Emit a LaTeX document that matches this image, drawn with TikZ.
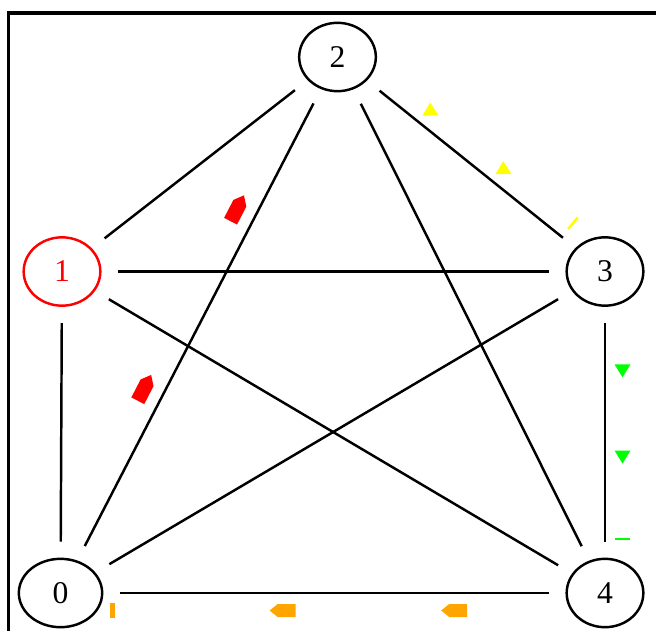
\documentclass[tikz,border=0pt]{standalone}
\usepackage{fontspec}
\setmainfont{Liberation Serif}
\usepackage{tikz}
\usetikzlibrary{shapes.geometric, calc}
\definecolor{msgred}{RGB}{255,0,0}
\definecolor{msgyellow}{RGB}{255,255,0}
\definecolor{msggreen}{RGB}{0,255,0}
\definecolor{msgorange}{RGB}{255,165,0}

\begin{document}
\begin{tikzpicture}[x=0.03cm, y=0.03cm,
  every node/.style={font=\fontsize{27}{32}\selectfont},
  vertex/.style={ellipse, draw, line width=2.1pt, minimum width=2.3cm,
    minimum height=2.05cm, inner sep=0pt, outer sep=0.52cm},
  edge/.style={line width=2.1pt},
  msg/.style={pos=#1, sloped, allow upside down},
  % message markers, drawn along +x and offset to the left of the edge
  pics/flag/.style={code={\fill (-13,11) -- (5,11) -- (13,17.5) -- (5,24) -- (-13,24) -- cycle;}},
  pics/tri/.style={code={\fill[rotate around={#1:(0,17.5)}] (-6.5,9.5) -- (6.5,17.5) -- (-6.5,25.5) -- cycle;}},
  pics/tri/.default=0,
  pics/bar/.style={code={\fill (-#1,10) rectangle (#1,25);}}]

  \clip (0,0) rectangle (656,630);
  \useasboundingbox (0,0) rectangle (656,630);

  % frame
  \draw[line width=2.6pt] (8.5,-20) -- (8.5,617) -- (690,617);

  % vertices
  \node[vertex, minimum width=2.5cm] (n0) at (60.5,37) {0};
  \node[vertex, draw=red, text=red] (n1) at (62,358.5) {1};
  \node[vertex] (n2) at (337.5,573) {2};
  \node[vertex] (n3) at (605,358.5) {3};
  \node[vertex] (n4) at (605,37) {4};

  % edges
  \draw[edge] (n0) -- (n1);
  \draw[edge] (n0) -- (n2);
  \draw[edge] (n0) -- (n3);
  \draw[edge] (n0) -- (n4);
  \draw[edge] (n1) -- (n2);
  \draw[edge] (n1) -- (n3);
  \draw[edge] (n1) -- (n4);
  \draw[edge] (n2) -- (n3);
  \draw[edge] (n2) -- (n4);
  \draw[edge] (n3) -- (n4);

  % messages 0 -> 2
  \path (n0.center) -- (n2.center)
    pic[msg=0.366, msgred, scale=1.12] {flag}
    pic[msg=0.701, msgred, scale=1.12] {flag};

  % messages 2 -> 3
  \path (n2.center) -- (n3.center)
    pic[msg=0.306, msgyellow] {tri=130}
    pic[msg=0.579, msgyellow] {tri=130}
    pic[msg=0.839, msgyellow] {bar=1.25};

  % messages 3 -> 4
  \path (n3.center) -- (n4.center)
    pic[msg=0.309, msggreen] {tri}
    pic[msg=0.577, msggreen] {tri}
    pic[msg=0.832, msggreen] {bar=1.25};

  % messages 4 -> 0
  \path (n4.center) -- (n0.center)
    pic[msg=0.277, msgorange] {flag}
    pic[msg=0.592, msgorange] {flag}
    pic[msg=0.905, msgorange] {bar=2.5};

\end{tikzpicture}
\end{document}
